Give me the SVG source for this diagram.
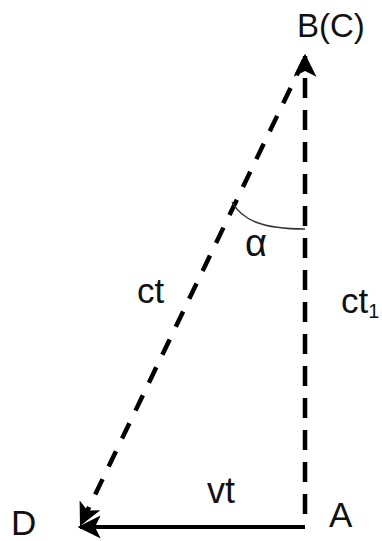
<svg xmlns="http://www.w3.org/2000/svg" width="382" height="541" viewBox="0 0 382 541">
<style>
.lbl{font-family:"Liberation Sans",Arial,sans-serif;fill:#111;}
.dash{stroke:#000;stroke-width:4.5;fill:none;}
.solid{stroke:#000;stroke-width:4;fill:none;}
.arc{stroke:#333;stroke-width:1.5;fill:none;}
</style>
<defs>
<marker id="ah" viewBox="0 0 20 20" refX="18" refY="10" markerWidth="23" markerHeight="23" markerUnits="userSpaceOnUse" orient="auto">
<path d="M0,0 L20,10 L0,20 L5,10 Z" fill="#000"/>
</marker>
</defs>
<rect width="382" height="541" fill="#fff"/>
<g id="connectors">
<line id="AB" class="dash" x1="305" y1="514" x2="305" y2="56" stroke-dasharray="20,12" marker-end="url(#ah)"/>
<line id="BD" class="dash" x1="304" y1="60" x2="81" y2="524" stroke-dasharray="17,14" marker-end="url(#ah)"/>
<line id="AD" class="solid" x1="305" y1="527" x2="80" y2="527" marker-end="url(#ah)"/>
<path id="angle" class="arc" d="M232,202 C242,220 262,229 305,229"/>
</g>
<g id="node-B"><text class="lbl" x="297" y="37" font-size="33">B(C)</text></g>
<g id="node-D"><text class="lbl" x="11" y="535" font-size="35">D</text></g>
<g id="node-A"><text class="lbl" x="329" y="527" font-size="35">A</text></g>
<g id="label-ct"><text class="lbl" x="137" y="303" font-size="35">ct</text></g>
<g id="label-ct1"><text class="lbl" x="341" y="313" font-size="35">ct<tspan font-size="20" dy="5">1</tspan></text></g>
<g id="label-vt"><text class="lbl" x="207" y="503" font-size="36">vt</text></g>
<g id="label-alpha"><text class="lbl" x="245" y="256" font-size="38">α</text></g>
</svg>
